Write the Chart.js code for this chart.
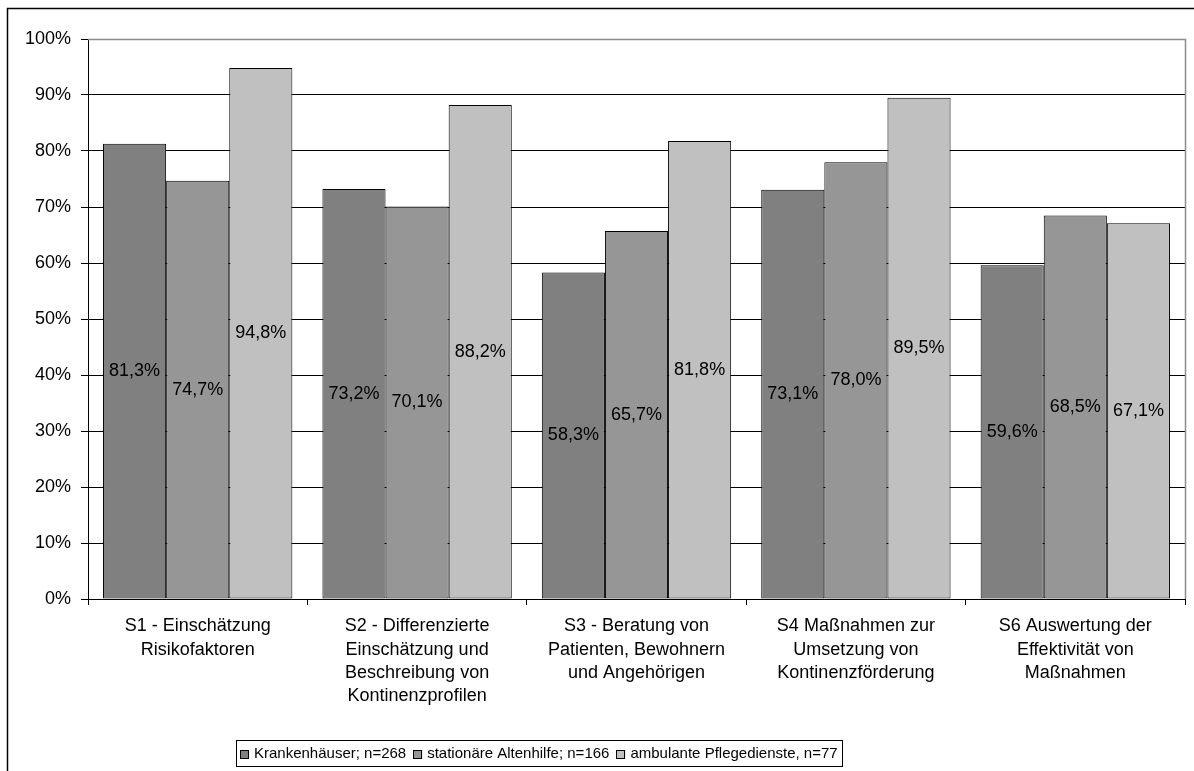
<!DOCTYPE html>
<html>
<head>
<meta charset="utf-8">
<script src="https://cdn.jsdelivr.net/npm/chart.js@4/dist/chart.umd.min.js"></script>
<style>
  html, body { margin: 0; padding: 0; background: #fff; }
  #chart { display: block; }
</style>
</head>
<body>
<canvas id="chart" width="1194" height="771"></canvas>
<script>
// Standards S1–S6: share of institutions that implemented each criterion
const categories = [
  ['S1 - Einschätzung', 'Risikofaktoren'],
  ['S2 - Differenzierte', 'Einschätzung und', 'Beschreibung von', 'Kontinenzprofilen'],
  ['S3 - Beratung von', 'Patienten, Bewohnern', 'und Angehörigen'],
  ['S4 Maßnahmen zur', 'Umsetzung von', 'Kontinenzförderung'],
  ['S6 Auswertung der', 'Effektivität von', 'Maßnahmen']
];
const seriesNames = [
  'Krankenhäuser; n=268',
  'stationäre Altenhilfe; n=166',
  'ambulante Pflegedienste, n=77'
];
const krankenhaeuser = [81.3, 73.2, 58.3, 73.1, 59.6];
const altenhilfe     = [74.7, 70.1, 65.7, 78.0, 68.5];
const pflegedienste  = [94.8, 88.2, 81.8, 89.5, 67.1];
const yTickValues    = [0, 10, 20, 30, 40, 50, 60, 70, 80, 90, 100];

const seriesColors = ['#808080', '#969696', '#C0C0C0'];
const FONT = '"Liberation Sans", Arial, Helvetica, sans-serif';

const fmtPct = v => v.toFixed(1).replace('.', ',') + '%';

// White page with the outer frame (top and left edges)
const framePlugin = {
  id: 'frame',
  beforeDraw(chart) {
    const ctx = chart.ctx;
    ctx.save();
    ctx.fillStyle = '#fff';
    ctx.fillRect(0, 0, chart.width, chart.height);
    ctx.strokeStyle = '#000';
    ctx.lineWidth = 1.5;
    ctx.beginPath();
    ctx.moveTo(7.5, chart.height);
    ctx.lineTo(7.5, 8.5);
    ctx.lineTo(chart.width, 8.5);
    ctx.stroke();
    ctx.restore();
  }
};

// Grey plot-area border on the top and right sides
const plotBorderPlugin = {
  id: 'plotBorder',
  beforeDatasetsDraw(chart) {
    const { ctx, chartArea: a } = chart;
    ctx.save();
    ctx.strokeStyle = '#8c8c8c';
    ctx.lineWidth = 1.5;
    ctx.beginPath();
    ctx.moveTo(a.left, a.top + 0.5);
    ctx.lineTo(a.right + 0.5, a.top + 0.5);
    ctx.lineTo(a.right + 0.5, a.bottom);
    ctx.stroke();
    ctx.restore();
  }
};

// Value labels centred in each bar
const valueLabelPlugin = {
  id: 'valueLabels',
  afterDatasetsDraw(chart) {
    const ctx = chart.ctx;
    ctx.save();
    ctx.font = '18px ' + FONT;
    ctx.fillStyle = '#000';
    ctx.textAlign = 'center';
    ctx.textBaseline = 'middle';
    chart.data.datasets.forEach((ds, i) => {
      chart.getDatasetMeta(i).data.forEach((bar, j) => {
        ctx.fillText(fmtPct(ds.data[j]), bar.x, (bar.y + bar.base) / 2);
      });
    });
    ctx.restore();
  }
};

// Boxed legend below the axis labels
const boxLegendPlugin = {
  id: 'boxLegend',
  afterDraw(chart) {
    const ctx = chart.ctx;
    const o = chart.options.plugins.boxLegend;
    ctx.save();
    ctx.font = o.fontSize + 'px ' + FONT;
    ctx.textBaseline = 'middle';
    const items = chart.data.datasets.map(ds => ({
      text: ds.label, color: ds.backgroundColor, w: ctx.measureText(ds.label).width
    }));
    const sq = o.square, gap = o.gap, itemGap = o.itemGap, pad = o.pad;
    let total = pad * 2;
    items.forEach((it, k) => { total += sq + gap + it.w + (k < items.length - 1 ? itemGap : 0); });
    total = Math.round(total);
    const left = Math.round(o.centerX - total / 2);
    ctx.fillStyle = '#fff';
    ctx.fillRect(left, o.top, total, o.height);
    ctx.strokeStyle = '#000';
    ctx.lineWidth = 1;
    ctx.strokeRect(left + 0.5, o.top + 0.5, total, o.height);
    let x = left + pad;
    const cy = o.top + o.height / 2 + 1;
    items.forEach(it => {
      const sy = Math.round(cy - sq / 2);
      ctx.fillStyle = it.color;
      ctx.fillRect(x, sy, sq, sq);
      ctx.strokeStyle = '#000';
      ctx.strokeRect(Math.round(x) + 0.5, sy + 0.5, sq - 1, sq - 1);
      x += sq + gap;
      ctx.fillStyle = '#000';
      ctx.fillText(it.text, x, cy);
      x += it.w + itemGap;
    });
    ctx.restore();
  }
};

const datasets = [krankenhaeuser, altenhilfe, pflegedienste].map((vals, i) => ({
  label: seriesNames[i],
  data: vals,
  backgroundColor: seriesColors[i],
  borderColor: '#000',
  borderWidth: 1,
  borderSkipped: false,
  categoryPercentage: 0.863,
  barPercentage: 1.0
}));

new Chart(document.getElementById('chart'), {
  type: 'bar',
  data: { labels: categories, datasets },
  options: {
    responsive: false,
    animation: false,
    devicePixelRatio: 1,
    layout: { padding: { left: 0, right: 9, top: 39, bottom: 61 } },
    plugins: {
      legend: { display: false },
      tooltip: { enabled: false },
      boxLegend: { fontSize: 15, square: 9, gap: 5, itemGap: 7, pad: 4, centerX: 539, top: 740, height: 26 }
    },
    scales: {
      x: {
        afterFit(scale) { scale.height = 111; },
        grid: { display: true, drawOnChartArea: false, drawTicks: true, tickLength: 6, color: '#000', offset: true },
        border: { display: true, color: '#000', width: 1 },
        ticks: {
          autoSkip: false, maxRotation: 0, minRotation: 0, padding: 10, color: '#000',
          font: { family: FONT, size: 18, lineHeight: 1.28 }
        }
      },
      y: {
        min: 0, max: 100,
        afterFit(scale) { scale.width = 88; },
        afterBuildTicks(scale) { scale.ticks = yTickValues.map(v => ({ value: v })); },
        grid: { color: '#000', lineWidth: 1, drawTicks: true, tickLength: 7, tickColor: '#000' },
        border: { display: true, color: '#000', width: 1 },
        ticks: {
          padding: 10, color: '#000',
          font: { family: FONT, size: 18 },
          callback: v => v + '%'
        }
      }
    }
  },
  plugins: [framePlugin, plotBorderPlugin, valueLabelPlugin, boxLegendPlugin]
});
</script>
</body>
</html>
